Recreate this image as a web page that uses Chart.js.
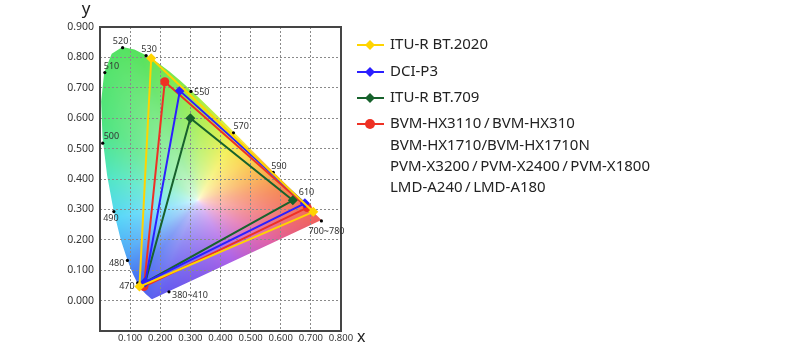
<!DOCTYPE html>
<html>
<head>
<meta charset="utf-8">
<script src="https://cdn.jsdelivr.net/npm/chart.js@4"></script>
<style>
  html, body { margin: 0; padding: 0; background: #fff; }
  #wrap { width: 800px; height: 353px; }
</style>
</head>
<body>
<div id="wrap"><canvas id="cieChart" width="800" height="353"></canvas></div>
<script>
// Spectral locus (CIE 1931), used to outline and clip the colour field
const locusX = [0.1741, 0.1733, 0.1714, 0.1689, 0.1644, 0.1566, 0.1510, 0.1440, 0.1355, 0.1241, 0.1096, 0.0913, 0.0687, 0.0454, 0.0235, 0.0082, 0.0039, 0.0139, 0.0389, 0.0743, 0.1142, 0.1547, 0.1929, 0.2296, 0.2658, 0.3016, 0.3373, 0.3731, 0.4087, 0.4441, 0.4788, 0.5125, 0.5448, 0.5752, 0.6029, 0.6270, 0.6482, 0.6658, 0.6915, 0.7079, 0.7190, 0.7260, 0.7300, 0.7334, 0.7347];
const locusY = [0.0050, 0.0048, 0.0051, 0.0069, 0.0109, 0.0177, 0.0227, 0.0297, 0.0399, 0.0578, 0.0868, 0.1327, 0.2007, 0.2950, 0.4127, 0.5384, 0.6548, 0.7502, 0.8120, 0.8338, 0.8262, 0.8059, 0.7816, 0.7543, 0.7243, 0.6923, 0.6589, 0.6245, 0.5896, 0.5547, 0.5202, 0.4866, 0.4544, 0.4242, 0.3965, 0.3725, 0.3514, 0.3340, 0.3083, 0.2920, 0.2809, 0.2740, 0.2700, 0.2666, 0.2653];

// Wavelength marks
const wlLabels = ['380~410', '470', '480', '490', '500', '510', '520', '530', '550', '570', '590', '610', '700~780'];
const wlX = [0.229, 0.125, 0.091, 0.046, 0.009, 0.016, 0.075, 0.153, 0.302, 0.443, 0.575, 0.663, 0.735];
const wlY = [0.029, 0.058, 0.132, 0.293, 0.518, 0.750, 0.832, 0.806, 0.688, 0.552, 0.422, 0.332, 0.262];

// Gamut triangles: red, green, blue primaries
const seriesNames = ['ITU-R BT.2020', 'DCI-P3', 'ITU-R BT.709', 'BVM'];
const bt2020X = [0.708, 0.170, 0.131];
const bt2020Y = [0.292, 0.797, 0.046];
const p3X = [0.680, 0.265, 0.150];
const p3Y = [0.320, 0.690, 0.060];
const bt709X = [0.640, 0.300, 0.150];
const bt709Y = [0.330, 0.600, 0.060];
const bvmX = [0.688, 0.215, 0.146];
const bvmY = [0.306, 0.720, 0.046];

const bvmLines = [
    'BVM-HX3110\u2009/\u2009BVM-HX310',
    'BVM-HX1710/BVM-HX1710N',
    'PVM-X3200\u2009/\u2009PVM-X2400\u2009/\u2009PVM-X1800',
    'LMD-A240\u2009/\u2009LMD-A180'
];

const FONT = '"Noto Sans", "Open Sans", sans-serif';

function toPoints(xs, ys, close) {
    const pts = xs.map((x, i) => ({ x: x, y: ys[i] }));
    if (close) pts.push({ x: xs[0], y: ys[0] });
    return pts;
}

// hue stops around the white point (angle in degrees -> rgb), style only
const WHITE = [0.325, 0.33];
const hueStops = [
    [-9, [240, 96, 90]],
    [5, [245, 128, 78]],
    [20, [248, 170, 70]],
    [40, [250, 210, 70]],
    [60, [242, 238, 70]],
    [88, [170, 238, 70]],
    [112, [86, 226, 92]],
    [140, [78, 228, 125]],
    [165, [80, 230, 195]],
    [192, [86, 214, 248]],
    [215, [80, 170, 246]],
    [233, [70, 108, 240]],
    [250, [100, 90, 238]],
    [300, [172, 96, 230]],
    [330, [222, 96, 168]],
    [351, [240, 96, 90]]
];

function hueColor(deg) {
    if (deg < -9) deg += 360;
    if (deg > 351) deg -= 360;
    for (let i = 0; i < hueStops.length - 1; i++) {
        const a = hueStops[i], b = hueStops[i + 1];
        if (deg >= a[0] && deg <= b[0]) {
            const t = (deg - a[0]) / (b[0] - a[0]);
            return [0, 1, 2].map(k => a[1][k] + (b[1][k] - a[1][k]) * t);
        }
    }
    return hueStops[0][1];
}

const cieField = {
    id: 'cieField',
    beforeDraw(chart) {
        const ctx = chart.ctx;
        const xs = chart.scales.x, ys = chart.scales.y;
        const area = chart.chartArea;
        const w = Math.round(area.right - area.left), h = Math.round(area.bottom - area.top);

        // boundary radius per angle bin (ray from white point to locus outline)
        const N = 720;
        const radius = new Array(N).fill(0);
        const nPts = locusX.length;
        for (let k = 0; k < N; k++) {
            const ang = (k / N) * Math.PI * 2;
            const dx = Math.cos(ang), dy = Math.sin(ang);
            let best = Infinity;
            for (let i = 0; i < nPts; i++) {
                const j = (i + 1) % nPts;
                const ax = locusX[i] - WHITE[0], ay = locusY[i] - WHITE[1];
                const bx = locusX[j] - WHITE[0], by = locusY[j] - WHITE[1];
                const ex = bx - ax, ey = by - ay;
                const den = dx * ey - dy * ex;
                if (Math.abs(den) < 1e-12) continue;
                const t = (ax * ey - ay * ex) / den;
                const u = (ax * dy - ay * dx) / den;
                if (t > 0 && u >= 0 && u <= 1 && t < best) best = t;
            }
            radius[k] = best;
        }

        const off = document.createElement('canvas');
        off.width = w; off.height = h;
        const octx = off.getContext('2d');
        const img = octx.createImageData(w, h);
        for (let py = 0; py < h; py++) {
            const cy = ys.getValueForPixel(area.top + py + 0.5);
            for (let px = 0; px < w; px++) {
                const cx = xs.getValueForPixel(area.left + px + 0.5);
                const dx = cx - WHITE[0], dy = cy - WHITE[1];
                let ang = Math.atan2(dy, dx);
                const deg = ang * 180 / Math.PI;
                if (ang < 0) ang += Math.PI * 2;
                const r = radius[Math.floor(ang / (Math.PI * 2) * N) % N];
                const s = Math.min(1, Math.hypot(dx, dy) / r);
                const t = Math.pow(s, 0.45);
                const c = hueColor(deg);
                const i = (py * w + px) * 4;
                img.data[i] = Math.round(255 + (c[0] - 255) * t);
                img.data[i + 1] = Math.round(255 + (c[1] - 255) * t);
                img.data[i + 2] = Math.round(255 + (c[2] - 255) * t);
                img.data[i + 3] = 255;
            }
        }
        octx.putImageData(img, 0, 0);

        ctx.save();
        ctx.beginPath();
        locusX.forEach((lx, i) => {
            const px = xs.getPixelForValue(lx), py = ys.getPixelForValue(locusY[i]);
            if (i === 0) ctx.moveTo(px, py); else ctx.lineTo(px, py);
        });
        ctx.closePath();
        ctx.clip();
        ctx.drawImage(off, area.left, area.top);
        ctx.restore();
    },
    afterDraw(chart) {
        const ctx = chart.ctx;
        const area = chart.chartArea;
        ctx.save();
        // frame
        ctx.strokeStyle = '#454545';
        ctx.lineWidth = 2;
        ctx.strokeRect(area.left, area.top, area.right - area.left, area.bottom - area.top);

        // axis titles
        ctx.fillStyle = '#222';
        ctx.font = '17px ' + FONT;
        ctx.textBaseline = 'middle';
        ctx.textAlign = 'center';
        ctx.fillText('y', 86, 9);
        ctx.font = '16px ' + FONT;
        ctx.textAlign = 'left';
        ctx.fillText('x', 357, 337);

        // wavelength labels
        const offsets = [[3, 4, 'left'], [-3, 3, 'right'], [-3, 3, 'right'], [-3, 7, 'center'], [1, -7, 'left'], [-1, -6, 'left'],
            [-2, -6, 'center'], [3, -6, 'center'], [3, 1, 'left'], [0, -6, 'left'], [-2, -6, 'left'], [-1, -7, 'left'], [-13, 10, 'left']];
        const meta = chart.getDatasetMeta(4);
        ctx.font = '9px ' + FONT;
        ctx.fillStyle = '#333';
        meta.data.forEach((pt, i) => {
            const o = offsets[i];
            ctx.textAlign = o[2];
            ctx.fillText(wlLabels[i], pt.x + o[0], pt.y + o[1]);
        });

        // legend
        const rows = [
            { text: [seriesNames[0]], color: '#ffd400', style: 'diamond', y: 45 },
            { text: [seriesNames[1]], color: '#2b1fff', style: 'diamond', y: 72 },
            { text: [seriesNames[2]], color: '#17622c', style: 'diamond', y: 98 },
            { text: bvmLines, color: '#ee3124', style: 'circle', y: 124 }
        ];
        ctx.font = '15px ' + FONT;
        ctx.textAlign = 'left';
        rows.forEach(r => {
            ctx.strokeStyle = r.color;
            ctx.fillStyle = r.color;
            ctx.lineWidth = 2;
            ctx.beginPath();
            ctx.moveTo(357, r.y);
            ctx.lineTo(384, r.y);
            ctx.stroke();
            ctx.beginPath();
            if (r.style === 'diamond') {
                ctx.moveTo(370, r.y - 5); ctx.lineTo(375, r.y); ctx.lineTo(370, r.y + 5); ctx.lineTo(365, r.y);
            } else {
                ctx.arc(370, r.y, 5, 0, Math.PI * 2);
            }
            ctx.closePath();
            ctx.fill();
            ctx.fillStyle = '#222';
            r.text.forEach((t, k) => ctx.fillText(t, 390, r.y + k * 21.4));
        });
        ctx.restore();
    }
};

function triangle(label, xs, ys, color, style, radius) {
    return {
        label: label,
        data: toPoints(xs, ys, true),
        showLine: true,
        borderColor: color,
        backgroundColor: color,
        borderWidth: 2,
        pointStyle: style,
        pointRadius: [radius, radius, radius, 0],
        pointBorderWidth: 0,
        fill: false,
        tension: 0
    };
}

const ctx = document.getElementById('cieChart').getContext('2d');
const myChart = new Chart(ctx, {
    type: 'scatter',
    data: {
        datasets: [
            triangle(seriesNames[0], bt2020X, bt2020Y, '#ffd400', 'rectRot', 5),
            triangle(seriesNames[1], p3X, p3Y, '#2b1fff', 'rectRot', 5),
            triangle(seriesNames[2], bt709X, bt709Y, '#17622c', 'rectRot', 5),
            triangle(seriesNames[3], bvmX, bvmY, '#ee3124', 'circle', 4.5),
            {
                label: 'wavelength',
                data: toPoints(wlX, wlY, false),
                showLine: false,
                pointRadius: 1.6,
                pointBorderWidth: 0,
                backgroundColor: '#000'
            }
        ]
    },
    options: {
        responsive: false,
        animation: false,
        devicePixelRatio: 1,
        layout: { padding: { top: 27, right: 459, left: 0, bottom: 0 } },
        plugins: {
            legend: { display: false },
            tooltip: { enabled: false }
        },
        scales: {
            x: {
                type: 'linear',
                min: 0,
                max: 0.8,
                afterFit: s => { s.height = 22; },
                ticks: {
                    stepSize: 0.1,
                    autoSkip: false,
                    padding: 2,
                    color: '#333',
                    font: { size: 9.5, family: FONT },
                    maxRotation: 0,
                    callback: v => v < 0.05 ? '' : v.toFixed(3)
                },
                grid: { color: '#8a8a8a', lineWidth: 1, drawTicks: false },
                border: { display: false, dash: [2, 2] }
            },
            y: {
                type: 'linear',
                min: -0.1,
                max: 0.9,
                afterFit: s => { s.width = 100; },
                ticks: {
                    stepSize: 0.1,
                    autoSkip: false,
                    padding: 6,
                    color: '#333',
                    font: { size: 10.5, family: FONT },
                    callback: v => v < -0.05 ? '' : v.toFixed(3)
                },
                grid: { color: '#8a8a8a', lineWidth: 1, drawTicks: false },
                border: { display: false, dash: [2, 2] }
            }
        }
    },
    plugins: [cieField]
});
</script>
</body>
</html>
